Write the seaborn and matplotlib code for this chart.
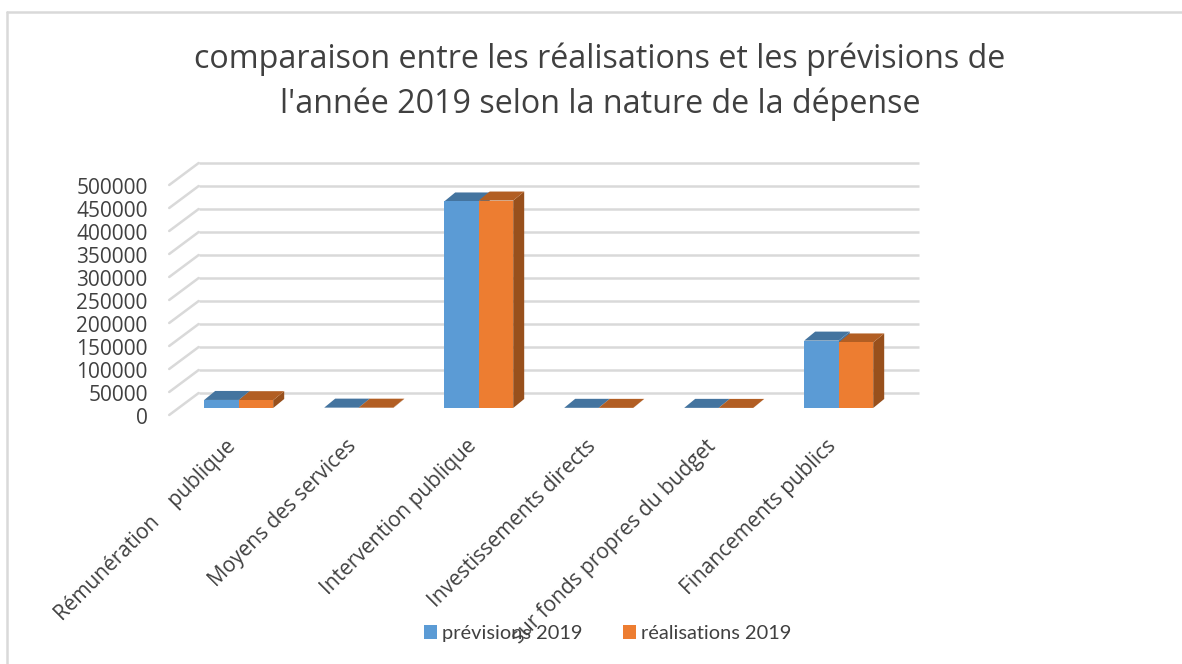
import pandas as pd
import seaborn as sns
import matplotlib.pyplot as plt
from matplotlib.lines import Line2D
from matplotlib.patches import Polygon, Rectangle
from matplotlib.transforms import Affine2D, IdentityTransform

categories = ['Rémunération    publique', 'Moyens des services', 'Intervention publique',
              'Investissements directs', 'sur fonds propres du budget', 'Financements publics']
previsions = [17500, 800, 449000, 400, 300, 146500]
realisations = [17000, 700, 451000, 300, 200, 142500]
series_names = ['prévisions 2019', 'réalisations 2019']
y_ticks = list(range(0, 500001, 50000))
title = "comparaison entre les réalisations et les prévisions de\nl'année 2019 selon la nature de la dépense"

W, H = 1182, 664
FRONT = ['#5b9bd5', '#ed7d31']
TOP = ['#44749f', '#b25e23']
SIDE = ['#44749f', '#98501c']
TEXT = '#404040'
# depth of the fake 3d box, pixels
BAR_DX, BAR_DY = 11, 9
WALL_DX, WALL_DY = 20, 15
FLOOR_DX, FLOOR_DY = -9.5, -7

sns.set_theme(style='white')
plt.rcParams['font.family'] = ['Open Sans', 'DejaVu Sans']

df = pd.DataFrame({
    'categorie': categories * 2,
    'valeur': previsions + realisations,
    'serie': [series_names[0]] * 6 + [series_names[1]] * 6,
})

fig = plt.figure(figsize=(W / 100, H / 100), dpi=100)
ax = fig.add_axes([178.7 / W, 1 - 408 / H, 720 / W, 230 / H])

sns.barplot(data=df, x='categorie', y='valeur', hue='serie', order=categories,
            hue_order=series_names, palette=FRONT, width=0.575, gap=0, saturation=1,
            linewidth=0, legend=False, zorder=3, ax=ax)

ax.set_xlim(-0.5, 5.5)
ax.set_ylim(0, 500000)
ax.set_xlabel('')
ax.set_ylabel('')
sns.despine(ax=ax, left=True, bottom=True, top=True, right=True)
ax.patch.set_alpha(0)

# back wall gridlines and the diagonals running to the front of the floor
wall = ax.transData + Affine2D().translate(WALL_DX, WALL_DY)
ax.hlines(y_ticks, -0.5, 5.5, color='#d9d9d9', lw=1.8, transform=wall, clip_on=False, zorder=1)
for v in y_ticks:
    x0, y0 = ax.transData.transform((-0.5, v))
    ax.plot([x0 + WALL_DX, x0 + FLOOR_DX], [y0 + WALL_DY, y0 + FLOOR_DY], color='#d9d9d9', lw=1.8,
            transform=IdentityTransform(), clip_on=False, zorder=1, solid_capstyle='round')

# top and side faces built from the seaborn bars
n = len(categories)
for s, container in enumerate(ax.containers):
    for bar in container:
        x0, y0 = ax.transData.transform((bar.get_x(), 0))
        x1, y1 = ax.transData.transform((bar.get_x() + bar.get_width(), bar.get_height()))
        top = [(x0, y1), (x1, y1), (x1 + BAR_DX, y1 + BAR_DY), (x0 + BAR_DX, y1 + BAR_DY)]
        side = [(x1, y0), (x1 + BAR_DX, y0 + BAR_DY), (x1 + BAR_DX, y1 + BAR_DY), (x1, y1)]
        ax.add_patch(Polygon(side, color=SIDE[s], lw=0, transform=IdentityTransform(), clip_on=False, zorder=2 + s))
        ax.add_patch(Polygon(top, color=TOP[s], lw=0, transform=IdentityTransform(), clip_on=False, zorder=2 + s))
    for bar in container:
        bar.set_zorder(3 + s)
        bar.set_clip_on(False)

ax.set_yticks(y_ticks)
ax.set_yticklabels([str(v) for v in y_ticks])
ax.tick_params(axis='y', length=0, pad=0, labelsize=15, labelcolor=TEXT)
label_shift = Affine2D().translate(-31, -8)
for lab in ax.get_yticklabels():
    lab.set_transform(lab.get_transform() + label_shift)

ax.set_xticks(range(n))
ax.set_xticklabels(categories, rotation=45, ha='right', rotation_mode='anchor')
ax.tick_params(axis='x', length=0, pad=20, labelsize=15, labelcolor=TEXT)
label_shift_x = Affine2D().translate(-13, 0)
for lab in ax.get_xticklabels():
    lab.set_transform(lab.get_transform() + label_shift_x)

fig.suptitle(title, x=600 / W, y=1 - 42 / H, va='top', fontsize=23.2, color=TEXT, linespacing=1.47)

handles = [Rectangle((0, 0), 1, 1, color=c, lw=0) for c in FRONT]
leg = fig.legend(handles, series_names, loc='center', bbox_to_anchor=(607.5 / W, 1 - 633.5 / H), ncol=2,
                 frameon=False, labelcolor=TEXT, handlelength=0.65, handleheight=0.7,
                 handletextpad=0.25, columnspacing=2.05, borderpad=0,
                 prop={'family': 'Lato', 'size': 14.4})
leg.set_zorder(10)

# chart frame: only the top and left edges are inside the picture
fig.add_artist(Line2D([7 / W, 7 / W], [0, 1 - 12 / H], color='#d9d9d9', lw=1.8, zorder=0))
fig.add_artist(Line2D([7 / W, 1], [1 - 12 / H, 1 - 12 / H], color='#d9d9d9', lw=1.8, zorder=0))

fig.savefig('out.png', dpi=100)
